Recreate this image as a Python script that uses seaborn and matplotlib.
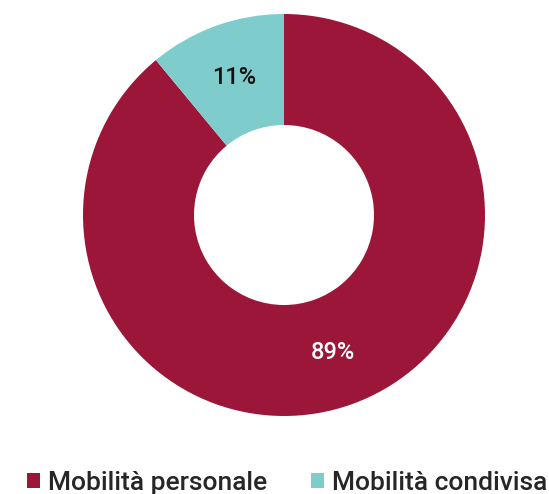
import matplotlib
matplotlib.use("Agg")
import matplotlib.pyplot as plt
import seaborn as sns
import numpy as np

categories = ["Mobilità personale", "Mobilità condivisa"]
values = [89, 11]
pct_labels = ["89%", "11%"]
colors_hex = ["#9B1639", "#7ECCCB"]
label_colors = ["white", "#111111"]

sns.set_theme(style="white")
plt.rcParams['font.family'] = ['Roboto', 'DejaVu Sans']

palette = sns.color_palette(colors_hex)

fig = plt.figure(figsize=(5.49, 4.94), dpi=100)
ax = fig.add_axes([83/549, 78/494, 402/549, 402/494])

wedges, _ = ax.pie(values, colors=palette, startangle=90, counterclock=False,
                   wedgeprops=dict(width=111/201, edgecolor='none'), radius=1)
for w, lab, c in zip(wedges, pct_labels, label_colors):
    ang = np.deg2rad((w.theta1 + w.theta2) / 2)
    r = 0.725
    ax.text(r*np.cos(ang), r*np.sin(ang), lab, ha='center', va='center',
            color=c, fontsize=17, fontweight='medium')
ax.set_xlim(-1, 1)
ax.set_ylim(-1, 1)
ax.set_aspect('equal')
ax.axis('off')

leg = fig.legend(wedges, categories, loc='center', bbox_to_anchor=(287/549, 1-483/494),
                 ncol=2, frameon=False, fontsize=19, handlelength=0.5, handleheight=0.5,
                 handletextpad=0.3, columnspacing=1.65, borderpad=0)
for t in leg.get_texts():
    t.set_fontweight('medium')

fig.savefig("out.png", dpi=100)
